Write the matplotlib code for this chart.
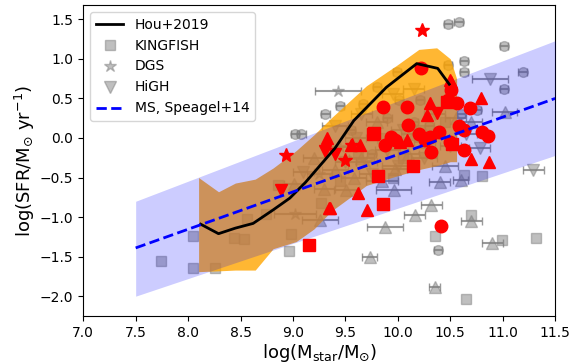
import numpy as np
import matplotlib.pyplot as plt
from matplotlib.lines import Line2D

# Hou+2019 mediana y rango
hou_x = [8.12, 8.29, 8.45, 8.62, 8.81, 8.97, 9.12, 9.40, 9.58, 9.89, 10.18, 10.38, 10.49]
hou_y = [-1.09, -1.21, -1.14, -1.08, -0.91, -0.76, -0.56, -0.13, 0.22, 0.64, 0.94, 0.88, 0.68]
band_x = [8.10, 8.29, 8.45, 8.64, 8.81, 9.03, 9.20, 9.37, 9.70, 9.99, 10.20, 10.37, 10.50, 10.56]
band_hi = [-0.50, -0.68, -0.57, -0.52, -0.38, -0.16, 0.04, 0.26, 0.66, 0.92, 1.12, 1.14, 1.00, 0.75]
band_lo = [-1.69, -1.68, -1.67, -1.67, -1.40, -1.31, -1.15, -0.92, -0.60, -0.48, -0.40, -0.35, -0.30, -0.30]

# Main sequence Speagel+14
ms_x = [7.5, 11.5]
ms_y = [-1.39, 0.50]
ms_lo = [-2.00, -0.22]
ms_hi = [-0.80, 1.23]

# KINGFISH
kf_x = [7.74, 8.05, 8.05, 8.26, 8.56, 8.44, 8.53, 8.74, 8.98, 8.96, 9.27, 8.86,
        10.35, 10.70, 10.99, 11.32, 10.65, 10.63, 10.80, 10.20, 9.85, 10.05, 9.62,
        9.45, 10.45, 9.95]
kf_y = [-1.55, -1.24, -1.65, -1.64, -1.03, -1.26, -1.28, -0.96, -1.21, -1.43, -0.82, -0.60,
        -1.24, -0.98, -1.29, -1.27, -2.04, -0.47, -0.48, 0.10, 0.00, -0.25, -0.20,
        -0.55, 0.20, -0.50]

# DGS
dgs_x = [9.02, 9.43, 9.45, 9.70, 9.25]
dgs_y = [-0.96, 0.60, -0.12, -0.30, -0.45]
dgs_xe = [0.20, 0.22, 0.10, 0.10, 0.12]

# HiGH
high_x = [10.88, 10.78, 11.29, 9.10, 10.15, 9.95, 10.50, 9.60, 9.90, 10.35, 9.50, 10.05,
          9.75, 10.25, 9.65, 10.65, 10.00, 9.40]
high_y = [0.75, -0.13, -0.41, -0.43, 0.62, 0.55, -0.10, 0.00, -0.15, 0.30, -0.30, 0.10,
          -0.45, -0.25, 0.30, 0.05, -0.35, 0.15]
high_xe = [0.17, 0.10, 0.10, 0.10, 0.10, 0.10, 0.10, 0.10, 0.12, 0.10, 0.10, 0.12,
           0.12, 0.12, 0.10, 0.10, 0.15, 0.12]

# otras muestras (grises, sin leyenda)
tri_x = [9.26, 9.88, 10.16, 10.32, 10.70, 10.90, 9.73, 10.35, 10.40, 10.60, 11.02, 9.01,
         9.51, 9.96, 9.97, 9.40, 9.65, 10.10, 10.25, 9.80, 9.30, 10.55, 9.85, 10.45,
         9.58, 10.15, 9.20, 10.70]
tri_y = [-1.04, -1.12, -0.98, -0.85, -1.05, -1.33, -1.50, -1.89, -0.56, -0.53, 0.33, -0.58,
         -0.66, -0.66, -0.39, -0.40, -0.25, -0.20, -0.05, 0.20, -0.65, 0.25, -0.55, -0.35,
         -0.50, 0.05, -0.25, 0.20]
tri_xe = [0.17, 0.17, 0.10, 0.10, 0.10, 0.10, 0.07, 0.05, 0.10, 0.07, 0.12, 0.10,
          0.12, 0.17, 0.12, 0.12, 0.12, 0.10, 0.10, 0.10, 0.10, 0.10, 0.15, 0.12,
          0.12, 0.12, 0.10, 0.10]

circ_x = [10.48, 10.58, 11.01, 10.63, 10.63, 11.19, 11.01, 10.48, 9.99, 9.80, 10.01, 9.67,
          9.31, 9.02, 9.08, 10.38, 10.21, 9.90, 10.60, 10.75, 9.55, 10.15, 9.45, 10.30,
          9.75, 10.05]
circ_y = [1.44, 1.47, 1.16, 0.97, 0.83, 0.83, 0.62, 0.92, 0.84, 0.64, 0.48, 0.43,
          0.30, 0.05, 0.05, -1.41, 0.48, 0.25, 0.30, 0.35, 0.10, 0.20, 0.40, 0.15,
          -0.20, -0.05]

# muestra roja
rc_x = [10.22, 9.86, 10.09, 10.51, 10.56, 10.69, 10.48, 9.93, 9.88, 9.97, 10.31, 10.39,
        10.58, 10.63, 10.80, 10.86, 10.50, 10.63, 10.32, 10.26, 10.41, 10.10, 10.20]
rc_y = [0.88, 0.39, 0.39, 0.61, 0.44, 0.38, 0.48, 0.01, -0.09, -0.03, 0.01, 0.08,
        0.15, 0.10, 0.08, 0.02, -0.05, -0.15, -0.18, -0.03, -1.11, 0.16, 0.05]
rt_x = [9.32, 9.62, 9.35, 9.71, 10.70, 10.87, 10.51, 10.79, 10.31, 10.28, 9.64, 9.55,
        10.09, 9.34, 10.50, 10.02]
rt_y = [0.00, -0.70, -0.88, -0.91, -0.27, -0.30, 0.71, 0.51, 0.44, 0.29, -0.09, -0.09,
        -0.03, -0.88, 0.73, -0.05]
rs_x = [9.76, 9.81, 10.14, 9.86, 9.15, 10.52, 10.47, 9.77]
rs_y = [0.05, -0.48, -0.35, -0.83, -1.35, -0.07, 0.46, 0.06]
rd_x = [8.89, 9.31, 10.37, 9.40]
rd_y = [-0.66, -0.16, 0.31, -0.20]
rst_x = [10.23, 8.93, 9.50, 9.56]
rst_y = [1.37, -0.22, -0.28, -0.09]

fig, ax = plt.subplots(figsize=(5.7, 3.64), dpi=100)
plt.subplots_adjust(left=0.146, right=0.974, top=0.986, bottom=0.132)

# barras de error (mas oscuras que los marcadores)
eb = dict(fmt='none', ecolor='gray', alpha=0.8, capsize=3, elinewidth=1.5, zorder=1)
ax.errorbar(circ_x, circ_y, xerr=0.04, **eb)
ax.errorbar(tri_x, tri_y, xerr=tri_xe, **eb)
ax.errorbar(high_x, high_y, xerr=high_xe, **eb)
ax.errorbar(dgs_x, dgs_y, xerr=dgs_xe, **eb)

mk = dict(color='gray', alpha=0.5, linestyle='none', zorder=1)
ax.plot(circ_x, circ_y, 'o', markersize=7, **mk)
ax.plot(tri_x, tri_y, '^', markersize=8, **mk)
ax.plot(high_x, high_y, 'v', markersize=8, **mk)
ax.plot(dgs_x, dgs_y, '*', markersize=9, **mk)
ax.plot(kf_x, kf_y, 's', markersize=7, **mk)

ax.fill_between(band_x, band_lo, band_hi, color='orange', alpha=0.8, lw=0, zorder=2)
ax.fill_between(ms_x, ms_lo, ms_hi, color='blue', alpha=0.2, lw=0, zorder=3)

ax.plot(rc_x, rc_y, 'o', color='red', markersize=9, zorder=4)
ax.plot(rt_x, rt_y, '^', color='red', markersize=9, zorder=4)
ax.plot(rs_x, rs_y, 's', color='red', markersize=8, zorder=4)
ax.plot(rd_x, rd_y, 'v', color='red', markersize=9, zorder=4)
ax.plot(rst_x, rst_y, '*', color='red', markersize=10, zorder=4)

ax.plot(hou_x, hou_y, color='black', lw=2, zorder=5)
ax.plot(ms_x, ms_y, '--', color='blue', lw=2, zorder=5)

ax.set_xlim(7.0, 11.5)
ax.set_ylim(-2.25, 1.68)
ax.set_xticks(np.arange(7.0, 11.51, 0.5))
ax.set_yticks(np.arange(-2.0, 1.51, 0.5))
ax.set_xlabel(r'log(M$_{\rm star}$/M$_{\odot}$)', fontsize=13, labelpad=2)
ax.set_ylabel(r'log(SFR/M$_{\odot}$ yr$^{-1}$)', fontsize=13, labelpad=2)

handles = [
    Line2D([], [], color='black', lw=2, label='Hou+2019'),
    Line2D([], [], marker='s', color='gray', alpha=0.5, ls='none', markersize=7, label='KINGFISH'),
    Line2D([], [], marker='*', color='gray', alpha=0.5, ls='none', markersize=9, label='DGS'),
    Line2D([], [], marker='v', color='gray', alpha=0.5, ls='none', markersize=9, label='HiGH'),
    Line2D([], [], color='blue', lw=2, ls='--', label='MS, Speagel+14'),
]
ax.legend(handles=handles, loc='upper left', fontsize=10)

fig.savefig('out.png', dpi=100)
